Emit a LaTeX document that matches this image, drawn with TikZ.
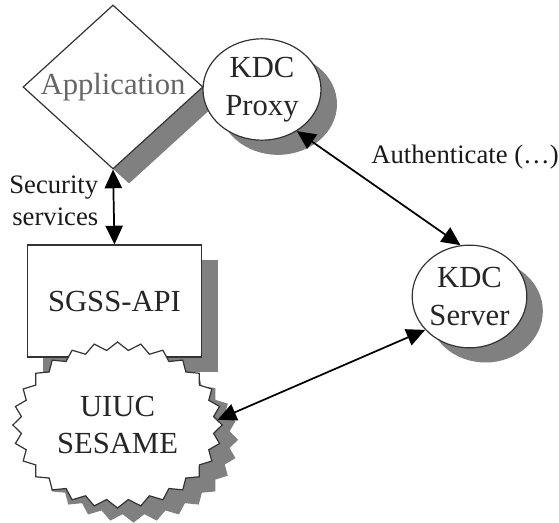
\documentclass[tikz,border=0pt]{standalone}
\usepackage{fontspec}
\setmainfont{Liberation Serif}
\usetikzlibrary{shapes.geometric,shapes.symbols,shadows,arrows.meta}
\tikzset{dropped/.style={drop shadow={shadow xshift=12pt,shadow yshift=-11pt,fill=gray,opacity=1}}}
\tikzset{part/.style={draw=black!80,line width=0.9pt,fill=white,text=black!85,align=center,font=\fontsize{23}{28}\selectfont,inner sep=0pt,dropped}}
\tikzset{link/.style={{Triangle[length=14pt,width=13pt]}-{Triangle[length=14pt,width=13pt]},line width=1.3pt}}
\tikzset{tag/.style={font=\fontsize{20}{24}\selectfont,text=black!90,inner sep=0pt}}

\begin{document}
\begin{tikzpicture}[x=0.75pt,y=-0.75pt]
    \useasboundingbox (0,0) rectangle (559,523);
    \node[part,diamond,aspect=1.1,minimum width=135pt,minimum height=123pt,text=black!60] (app) at (113,87) {Application};
    \node[part,ellipse,minimum width=88.5pt,minimum height=76pt] (proxy) at (262,89.5) {KDC\\Proxy};
    \node[part,ellipse,minimum width=86pt,minimum height=77pt] (server) at (469.5,296.5) {KDC\\Server};
    \node[part,rectangle,minimum width=131pt,minimum height=84pt] (sgss) at (114.5,301) {SGSS-API};
    \node[part,starburst,starburst points=28,starburst point height=6pt,random starburst=0,minimum width=157pt,minimum height=124.5pt] (sesame) at (117.5,425) {UIUC\\SESAME};
    \draw[link] (app.south) -- node[tag,midway,anchor=east,align=right,xshift=-11pt,yshift=5pt] {Security\\services} (sgss.north);
    \draw[link] (proxy.-50) -- node[tag,pos=0.45,anchor=south west,yshift=9pt] {Authenticate (…)} (server.100);
    \draw[link] (sesame.3) -- (server.-143);
\end{tikzpicture}
\end{document}
